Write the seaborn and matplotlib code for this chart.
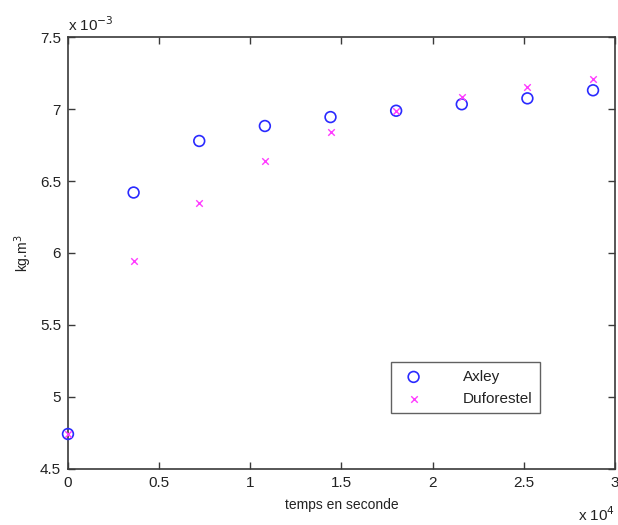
import numpy as np
import matplotlib
matplotlib.use('Agg')
import matplotlib.pyplot as plt
import seaborn as sns

# temps (s) et concentrations (kg.m3)
temps = [0, 3600, 7200, 10800, 14400, 18000, 21600, 25200, 28800]
axley = [4.743e-3, 6.42e-3, 6.778e-3, 6.882e-3, 6.944e-3, 6.988e-3, 7.033e-3, 7.074e-3, 7.13e-3]
duforestel = [4.743e-3, 5.944e-3, 6.349e-3, 6.637e-3, 6.838e-3, 6.986e-3, 7.085e-3, 7.155e-3, 7.208e-3]

sns.set_style('white')
plt.rcParams['font.family'] = ['Liberation Sans', 'DejaVu Sans']

gris = '#3a3a3a'
texte = '#222222'
fig = plt.figure(figsize=(6.18, 5.25), dpi=100)
ax = fig.add_axes([0.110, 0.1067, 0.885, 0.8228])

sns.scatterplot(x=temps, y=axley, ax=ax, marker='o', s=60,
                facecolors='none', edgecolor='#2a2aff', linewidth=1.2,
                label='Axley', zorder=3, clip_on=False)
sns.scatterplot(x=temps, y=duforestel, ax=ax, marker='x', s=22,
                color='#ff3cff', linewidth=1.0, label='Duforestel', zorder=4,
                clip_on=False)

ax.set_xlim(0, 30000)
ax.set_ylim(4.5e-3, 7.5e-3)
ax.set_xticks(np.arange(0, 30001, 5000))
ax.set_xticklabels(['0', '0.5', '1', '1.5', '2', '2.5', '3'])
ax.set_yticks(np.arange(4.5e-3, 7.51e-3, 0.5e-3))
ax.set_yticklabels(['4.5', '5', '5.5', '6', '6.5', '7', '7.5'])

ax.tick_params(direction='in', length=5, width=1, colors=gris,
               labelsize=11, top=True, right=True, bottom=True, left=True,
               labelcolor=texte, pad=5)
for sp in ax.spines.values():
    sp.set_color(gris)
    sp.set_linewidth(1.2)
    sp.set_visible(True)

ax.set_xlabel('temps en seconde', fontsize=10, color=texte, labelpad=6)
ax.set_ylabel('kg.m$^3$', fontsize=10, color=texte, labelpad=4)

ax.text(0.0, 1.008, r'x 10$^{-3}$', transform=ax.transAxes, fontsize=11,
        color=texte, ha='left', va='bottom')
ax.text(1.0, -0.083, r'x 10$^{4}$', transform=ax.transAxes, fontsize=11,
        color=texte, ha='right', va='top')

leg = ax.legend(loc='upper left', bbox_to_anchor=(0.59, 0.247), fontsize=11,
                frameon=True, fancybox=False, borderpad=0.5,
                handletextpad=2.2, handlelength=2.0, labelspacing=0.5,
                borderaxespad=0)
leg.get_frame().set_edgecolor(gris)
leg.get_frame().set_linewidth(1.0)
for t in leg.get_texts():
    t.set_color(texte)

fig.savefig('out.png', dpi=100)
